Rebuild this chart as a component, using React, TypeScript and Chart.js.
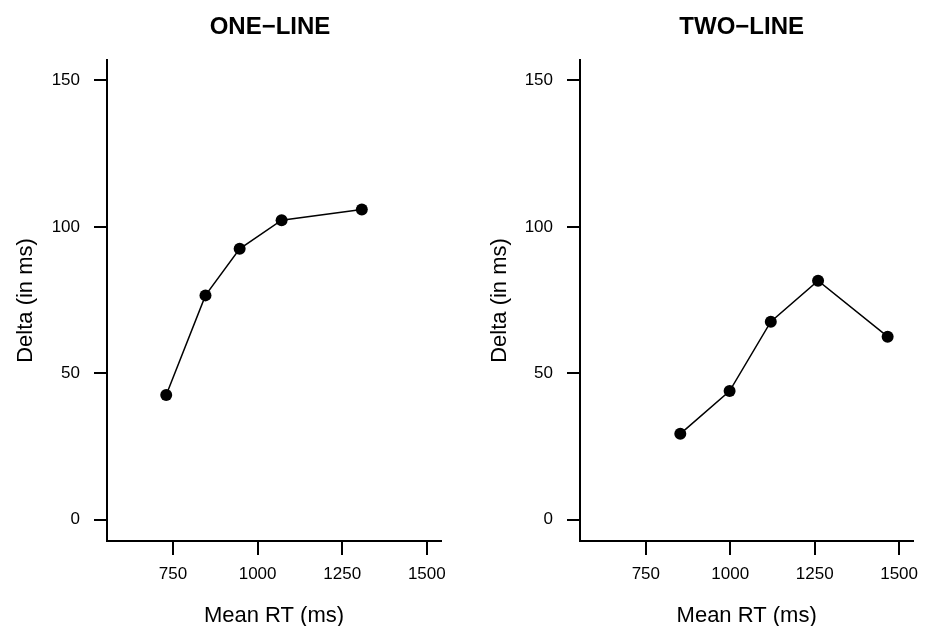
import React, { useEffect, useRef } from "react";
import { Chart, registerables } from "chart.js";

Chart.register(...registerables);

const panelTitles = ["ONE\u2212LINE", "TWO\u2212LINE"];
const oneLineRT = [730, 846, 947, 1071, 1308];
const oneLineDelta = [42.6, 76.6, 92.5, 102.3, 105.9];
const twoLineRT = [852, 998, 1120, 1260, 1466];
const twoLineDelta = [29.3, 43.9, 67.6, 81.6, 62.5];
const xTicks = [750, 1000, 1250, 1500];
const yTicks = [0, 50, 100, 150];
const xLabel = "Mean RT (ms)";
const yLabel = "Delta (in ms)";
const xMin = 555;
const xMax = 1542;
const yMin = -7.3;
const yMax = 157;

const FONT = "'Liberation Sans', Arial, Helvetica, sans-serif";
const H = 626;

type PanelProps = {
  title: string;
  xs: number[];
  ys: number[];
  left: number;
  width: number;
  axisLeft: number;
  areaRight: number;
  yTitlePad: number;
  titleShift: number;
};

function Panel({ title, xs, ys, left, width, axisLeft, areaRight, yTitlePad, titleShift }: PanelProps) {
  const ref = useRef<HTMLCanvasElement>(null);
  useEffect(() => {
    if (!ref.current) return;
    const titlePlugin = {
      id: "panelTitle",
      afterDraw(chart: any) {
        const { ctx, chartArea } = chart;
        ctx.save();
        ctx.font = `bold 24px ${FONT}`;
        ctx.fillStyle = "#000";
        ctx.textAlign = "center";
        ctx.textBaseline = "middle";
        ctx.fillText(title, (chartArea.left + chartArea.right) / 2 + titleShift, 27);
        ctx.restore();
      },
    };
    const chart = new Chart(ref.current, {
      type: "line",
      data: {
        datasets: [
          {
            data: xs.map((x, i) => ({ x, y: ys[i] })),
            borderColor: "#000",
            borderWidth: 1.5,
            pointRadius: 6,
            pointHoverRadius: 6,
            pointBackgroundColor: "#000",
            pointBorderColor: "#000",
            pointBorderWidth: 0,
            fill: false,
            tension: 0,
          },
        ],
      },
      options: {
        animation: false,
        responsive: false,
        events: [],
        layout: { padding: { top: 60, left: 0, right: width - areaRight, bottom: 0 } },
        plugins: {
          legend: { display: false },
          tooltip: { enabled: false },
          title: { display: false },
        },
        scales: {
          x: {
            type: "linear",
            min: xMin,
            max: xMax,
            afterBuildTicks: (s: any) => {
              s.ticks = xTicks.map((v) => ({ value: v }));
            },
            afterFit: (s: any) => {
              s.height = 85;
            },
            ticks: {
              color: "#000",
              font: { family: FONT, size: 17 },
              padding: 9.3,
              maxRotation: 0,
              autoSkip: false,
              callback: (v: any) => String(v),
            },
            grid: {
              display: true,
              drawOnChartArea: false,
              drawTicks: true,
              tickLength: 14,
              color: "#000",
              lineWidth: 2,
            },
            border: { display: true, color: "#000", width: 2 },
            title: {
              display: true,
              text: xLabel,
              color: "#000",
              font: { family: FONT, size: 22, lineHeight: 0.95 },
              padding: { top: 0, bottom: 0 },
            },
          },
          y: {
            type: "linear",
            min: yMin,
            max: yMax,
            afterBuildTicks: (s: any) => {
              s.ticks = yTicks.map((v) => ({ value: v }));
            },
            afterFit: (s: any) => {
              s.width = axisLeft;
            },
            ticks: {
              color: "#000",
              font: { family: FONT, size: 17 },
              padding: 14,
              autoSkip: false,
              callback: (v: any) => String(v),
            },
            grid: {
              display: true,
              drawOnChartArea: false,
              drawTicks: true,
              tickLength: 13,
              color: "#000",
              lineWidth: 2,
            },
            border: { display: true, color: "#000", width: 2 },
            title: {
              display: true,
              text: yLabel,
              color: "#000",
              font: { family: FONT, size: 22 },
              padding: { top: yTitlePad, bottom: 0 },
            },
          },
        },
      },
      plugins: [titlePlugin],
    } as any);
    return () => chart.destroy();
  }, []);
  return (
    <canvas
      ref={ref}
      width={width}
      height={H}
      style={{ position: "absolute", left, top: 0, width, height: H, display: "block" }}
    />
  );
}

export default function App() {
  return (
    <div style={{ position: "fixed", left: 0, top: 0, width: 931, height: H, background: "#fff" }}>
      <Panel
        title={panelTitles[0]}
        xs={oneLineRT}
        ys={oneLineDelta}
        left={0}
        width={466}
        axisLeft={107}
        areaRight={441}
        yTitlePad={12.5}
        titleShift={-4}
      />
      <Panel
        title={panelTitles[1]}
        xs={twoLineRT}
        ys={twoLineDelta}
        left={466}
        width={465}
        axisLeft={114}
        areaRight={447.3}
        yTitlePad={20.8}
        titleShift={-5}
      />
    </div>
  );
}
